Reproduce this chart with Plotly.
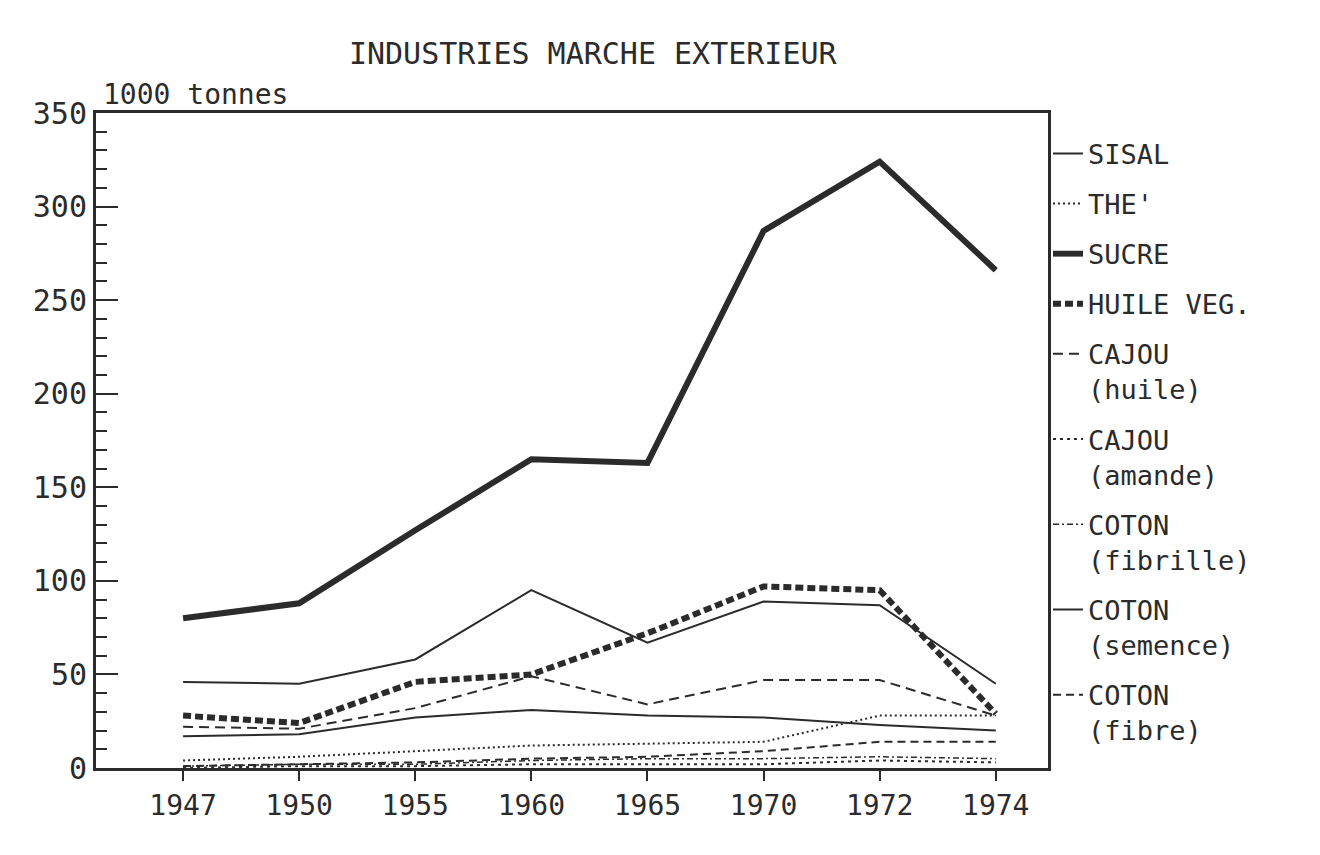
import plotly.graph_objects as go

# Data (1000 tonnes)

years = ['1947', '1950', '1955', '1960', '1965', '1970', '1972', '1974']

sisal = [46, 45, 58, 95, 67, 89, 87, 45]
the = [4, 6, 9, 12, 13, 14, 28, 28]
sucre = [80, 88, 127, 165, 163, 287, 324, 266]
huile_veg = [28, 24, 46, 50, 72, 97, 95, 29]
cajou_huile = [22, 21, 32, 49, 34, 47, 47, 28]
cajou_amande = [0, 1, 1, 2, 2, 2, 4, 3]
coton_fibrille = [1, 2, 2, 4, 5, 5, 6, 5]
coton_semence = [17, 18, 27, 31, 28, 27, 23, 20]
coton_fibre = [1, 2, 3, 5, 6, 9, 14, 14]

ink = '#2b2b2b'
font = 'DejaVu Sans Mono'

series = [
    ('SISAL', sisal, 2, 'solid'),
    ("THE'", the, 2, '2px,3px'),
    ('SUCRE', sucre, 6, 'solid'),
    ('HUILE VEG.', huile_veg, 6, '8px,4px'),
    ('CAJOU<br>(huile)', cajou_huile, 2, '10px,6px'),
    ('CAJOU<br>(amande)', cajou_amande, 2, '3px,4px'),
    ('COTON<br>(fibrille)', coton_fibrille, 1.5, '6px,3px,2px,3px'),
    ('COTON<br>(semence)', coton_semence, 2, 'solid'),
    ('COTON<br>(fibre)', coton_fibre, 2, '8px,5px'),
]

fig = go.Figure()

for i, (name, vals, w, dash) in enumerate(series):
    fig.add_trace(go.Scatter(
        x = years, y = vals, name = name, mode = 'lines',
        legendgroup = 'g%d' % i,
        line = dict(color = ink, width = w, dash = dash)))

fig.update_layout(
    width = 1320, height = 855,
    paper_bgcolor = 'white', plot_bgcolor = 'white',
    margin = dict(l = 88, r = 280, t = 105, b = 95),
    font = dict(family = font, color = ink),
    title = dict(text = 'INDUSTRIES MARCHE EXTERIEUR', x = 0.443, xanchor = 'center',
                 y = 0.947, yanchor = 'middle', font = dict(size = 30, family = font, color = ink)),
    legend = dict(x = 1.0, xanchor = 'left', y = 0.975, yanchor = 'top',
                  traceorder = 'grouped', tracegroupgap = 12,
                  valign = 'top', bgcolor = 'rgba(0,0,0,0)',
                  font = dict(size = 27, family = font, color = ink)),
    showlegend = True)

fig.update_xaxes(
    type = 'category', range = [-0.75, 7.45],
    showgrid = False, zeroline = False,
    showline = True, mirror = True, linecolor = ink, linewidth = 3,
    ticks = 'outside', ticklen = 10, tickwidth = 2, tickcolor = ink,
    tickfont = dict(size = 28, family = font, color = ink))

fig.update_yaxes(
    range = [0, 350], dtick = 50,
    showgrid = False, zeroline = False,
    showline = True, mirror = True, linecolor = ink, linewidth = 3,
    ticks = 'inside', ticklen = 22, tickwidth = 2, tickcolor = ink,
    minor = dict(ticks = 'inside', dtick = 10, ticklen = 11, tickwidth = 2, tickcolor = ink),
    tickfont = dict(size = 30, family = font, color = ink))

fig.add_annotation(text = '1000 tonnes', xref = 'paper', yref = 'paper', x = 0.005, y = 1.0,
                   xanchor = 'left', yanchor = 'bottom', showarrow = False,
                   font = dict(size = 28, family = font, color = ink))

fig.write_html('out.html')
